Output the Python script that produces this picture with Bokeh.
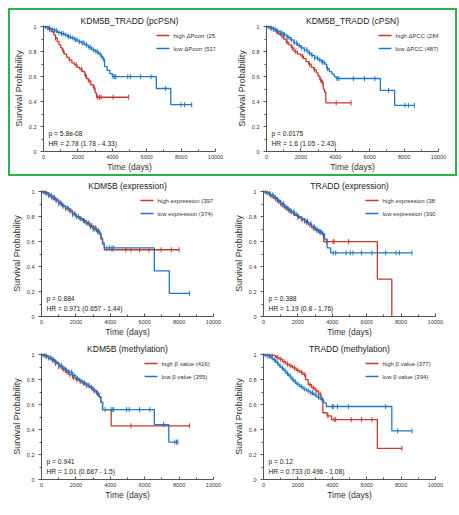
import numpy as np
from bokeh.plotting import figure
from bokeh.layouts import row, column
from bokeh.models import (Label, Range1d, FixedTicker, BoxAnnotation,
                          CustomJSTickFormatter)
from bokeh.embed import file_html
from bokeh.resources import INLINE

RED = "#c53a2e"
BLUE = "#2278c3"
GREEN = "#2bb24c"
FONT = "Liberation Sans"

titles = ["KDM5B_TRADD (pcPSN)", "KDM5B_TRADD (cPSN)", "KDM5B (expression)",
          "TRADD (expression)", "KDM5B (methylation)", "TRADD (methylation)"]
high_labels = ["high ΔPcorr (254)", "high ΔPCC (284)", "high expression (397)",
               "high expression (381)", "high β value (416)", "high β value (377)"]
low_labels = ["low ΔPcorr (517)", "low ΔPCC (487)", "low expression (374)",
              "low expression (390)", "low β value (355)", "low β value (394)"]
p_values = ["p = 5.8e-08", "p = 0.0175", "p = 0.884", "p = 0.388", "p = 0.941", "p = 0.12"]
hr_values = ["HR = 2.78 (1.78 - 4.33)", "HR = 1.6 (1.05 - 2.43)", "HR = 0.971 (0.657 - 1.44)",
             "HR = 1.19 (0.8 - 1.76)", "HR = 1.01 (0.687 - 1.5)", "HR = 0.733 (0.496 - 1.08)"]
x_ticks = [0, 2000, 4000, 6000, 8000, 10000]
x_minor = [1000, 3000, 5000, 7000, 9000]
y_ticks = [0, 0.2, 0.4, 0.6, 0.8, 1]
y_minor = [0.1, 0.3, 0.5, 0.7, 0.9]

# ---- Kaplan-Meier curves (step times, survival after step, last follow-up, censor times)
p1_high_t = [0, 300, 450, 600, 700, 800, 900, 1000, 1100, 1200, 1350, 1500, 1650, 1800, 1950, 2100, 2250, 2400, 2500, 2600, 2750, 2900, 3000, 3080]
p1_high_s = [1, 0.98, 0.96, 0.935, 0.91, 0.88, 0.855, 0.83, 0.805, 0.78, 0.755, 0.735, 0.71, 0.695, 0.675, 0.66, 0.64, 0.61, 0.585, 0.565, 0.535, 0.51, 0.47, 0.435]
p1_high_end = 4950
p1_high_cens = [350, 700, 1150, 1500, 1900, 2200, 2450, 2650, 2950, 3150, 3250, 3350, 4050, 4950]

p1_low_t = [0, 200, 400, 600, 800, 1000, 1200, 1400, 1600, 1800, 2000, 2200, 2400, 2600, 2800, 3000, 3200, 3350, 3450, 3550, 3700, 3850, 4000, 6560, 7400]
p1_low_s = [1, 0.99, 0.98, 0.97, 0.955, 0.945, 0.935, 0.92, 0.91, 0.895, 0.88, 0.87, 0.855, 0.835, 0.815, 0.80, 0.78, 0.76, 0.74, 0.68, 0.65, 0.625, 0.60, 0.505, 0.375]
p1_low_end = 8620
p1_low_cens = [100, 250, 350, 500, 650, 750, 900, 1050, 1150, 1300, 1450, 1550, 1700, 1850, 1950, 2100, 2250, 2350, 2500, 2650, 2750, 2900, 3050, 3150, 3300, 3400, 3500, 4050, 4150, 4200, 4900, 5050, 5650, 6250, 7100, 8000, 8200, 8620]

p2_high_t = [0, 200, 400, 550, 700, 850, 1000, 1150, 1300, 1450, 1600, 1800, 2000, 2150, 2300, 2450, 2600, 2750, 2900, 3000, 3100, 3200, 3300, 3380, 3450]
p2_high_s = [1, 0.99, 0.975, 0.96, 0.94, 0.925, 0.90, 0.875, 0.855, 0.83, 0.80, 0.78, 0.765, 0.745, 0.72, 0.70, 0.675, 0.655, 0.63, 0.605, 0.575, 0.555, 0.50, 0.475, 0.39]
p2_high_end = 4920
p2_high_cens = [300, 600, 900, 1200, 1500, 1700, 2100, 2500, 2800, 3150, 3250, 4050, 4920]

p2_low_t = [0, 200, 400, 600, 800, 1000, 1200, 1400, 1600, 1800, 2000, 2200, 2400, 2600, 2800, 3000, 3200, 3400, 3500, 3650, 3800, 3950, 4050, 6620, 7450]
p2_low_s = [1, 0.99, 0.98, 0.965, 0.95, 0.935, 0.915, 0.895, 0.87, 0.85, 0.83, 0.815, 0.79, 0.77, 0.75, 0.735, 0.715, 0.70, 0.665, 0.64, 0.62, 0.60, 0.585, 0.49, 0.37]
p2_low_end = 8600
p2_low_cens = [100, 250, 400, 500, 650, 800, 900, 1050, 1200, 1300, 1450, 1600, 1750, 1900, 2050, 2200, 2350, 2500, 2650, 2800, 2950, 3100, 3250, 3350, 3550, 4100, 4200, 5050, 5700, 6300, 7100, 8050, 8250, 8600]

p3_high_t = [0, 200, 400, 600, 800, 1000, 1200, 1400, 1600, 1800, 2000, 2200, 2400, 2600, 2800, 3000, 3200, 3350, 3450, 3550, 3650]
p3_high_s = [1, 0.99, 0.975, 0.955, 0.935, 0.91, 0.885, 0.865, 0.85, 0.825, 0.80, 0.785, 0.77, 0.75, 0.73, 0.71, 0.69, 0.66, 0.62, 0.58, 0.535]
p3_high_end = 8000
p3_high_cens = [150, 300, 450, 600, 750, 900, 1100, 1250, 1400, 1550, 1700, 1900, 2050, 2250, 2450, 2600, 2750, 2900, 3050, 3150, 3300, 4100, 4900, 5200, 5700, 6250, 6950, 7550, 8000]

p3_low_t = [0, 200, 400, 600, 800, 1000, 1200, 1400, 1600, 1800, 2000, 2200, 2400, 2600, 2800, 3000, 3200, 3350, 3450, 3550, 3650, 6560, 7430]
p3_low_s = [1, 0.99, 0.97, 0.95, 0.93, 0.905, 0.885, 0.87, 0.845, 0.82, 0.80, 0.785, 0.765, 0.745, 0.72, 0.70, 0.68, 0.67, 0.63, 0.59, 0.55, 0.365, 0.185]
p3_low_end = 8600
p3_low_cens = [100, 250, 400, 550, 700, 850, 1000, 1150, 1300, 1500, 1650, 1800, 1950, 2150, 2300, 2500, 2700, 2850, 3000, 3100, 3250, 3400, 3800, 3950, 4100, 4200, 8600]

p4_high_t = [0, 200, 400, 600, 800, 1000, 1200, 1400, 1600, 1800, 2000, 2200, 2400, 2600, 2800, 3000, 3200, 3400, 3500, 6620, 7460]
p4_high_s = [1, 0.985, 0.965, 0.945, 0.92, 0.895, 0.87, 0.85, 0.83, 0.81, 0.795, 0.775, 0.755, 0.735, 0.71, 0.69, 0.675, 0.66, 0.60, 0.30, 0.0]
p4_high_end = 7460
p4_high_cens = [150, 350, 500, 700, 900, 1100, 1300, 1500, 1750, 2000, 2250, 2500, 2700, 2900, 3100, 3300, 3650, 4050, 4100, 4950]

p4_low_t = [0, 200, 400, 600, 800, 1000, 1200, 1400, 1600, 1800, 2000, 2200, 2400, 2600, 2800, 3000, 3200, 3400, 3550, 3700, 3900]
p4_low_s = [1, 0.99, 0.975, 0.955, 0.93, 0.905, 0.88, 0.86, 0.84, 0.82, 0.80, 0.785, 0.765, 0.745, 0.72, 0.70, 0.68, 0.665, 0.62, 0.55, 0.51]
p4_low_end = 8630
p4_low_cens = [100, 250, 400, 550, 700, 850, 1000, 1150, 1300, 1450, 1600, 1750, 1900, 2050, 2200, 2400, 2550, 2750, 2950, 3100, 3250, 3350, 3450, 4050, 4200, 4800, 5050, 5200, 5700, 6300, 7100, 7700, 7900, 8630]

p5_high_t = [0, 200, 400, 600, 800, 1000, 1200, 1400, 1600, 1800, 2000, 2200, 2400, 2600, 2800, 3000, 3200, 3350, 3450, 3550, 4050]
p5_high_s = [1, 0.99, 0.975, 0.955, 0.93, 0.905, 0.88, 0.86, 0.84, 0.815, 0.80, 0.785, 0.77, 0.755, 0.74, 0.715, 0.69, 0.665, 0.62, 0.56, 0.43]
p5_high_end = 8600
p5_high_cens = [150, 300, 500, 650, 800, 1000, 1150, 1300, 1500, 1650, 1850, 2050, 2250, 2450, 2600, 2750, 2900, 3050, 3250, 5200, 8600]

p5_low_t = [0, 200, 400, 600, 800, 1000, 1200, 1400, 1600, 1800, 2000, 2200, 2400, 2600, 2800, 3000, 3200, 3350, 3450, 3550, 6560, 7400]
p5_low_s = [1, 0.99, 0.975, 0.96, 0.94, 0.915, 0.895, 0.875, 0.86, 0.835, 0.81, 0.79, 0.775, 0.755, 0.735, 0.71, 0.685, 0.66, 0.62, 0.56, 0.44, 0.30]
p5_low_end = 7930
p5_low_cens = [100, 250, 400, 550, 700, 850, 1000, 1150, 1300, 1450, 1600, 1750, 1900, 2100, 2300, 2500, 2700, 2900, 3100, 3300, 3700, 4050, 4150, 4200, 4950, 5100, 5700, 6300, 7100, 7750, 7850, 7930]

p6_high_t = [0, 400, 700, 900, 1100, 1300, 1500, 1700, 1900, 2100, 2300, 2450, 2600, 2800, 3000, 3200, 3350, 3450, 3700, 3950, 6620]
p6_high_s = [1, 0.995, 0.98, 0.965, 0.945, 0.925, 0.91, 0.895, 0.875, 0.86, 0.84, 0.80, 0.76, 0.735, 0.71, 0.685, 0.655, 0.535, 0.51, 0.48, 0.25]
p6_high_end = 8050
p6_high_cens = [500, 800, 1000, 1200, 1400, 1600, 1800, 2000, 2200, 2400, 2700, 2900, 3100, 3300, 3750, 4100, 4200, 5100, 5700, 6300, 8050]

p6_low_t = [0, 200, 400, 550, 700, 850, 1000, 1150, 1300, 1450, 1600, 1750, 1900, 2100, 2300, 2500, 2700, 2900, 3100, 3300, 3500, 3650, 7460]
p6_low_s = [1, 0.99, 0.975, 0.96, 0.94, 0.915, 0.895, 0.875, 0.85, 0.83, 0.805, 0.785, 0.765, 0.745, 0.725, 0.71, 0.695, 0.68, 0.66, 0.64, 0.615, 0.585, 0.39]
p6_low_end = 8630
p6_low_cens = [100, 250, 350, 500, 650, 800, 950, 1100, 1250, 1400, 1550, 1700, 1850, 2000, 2200, 2400, 2600, 2750, 2850, 3000, 3200, 3400, 4000, 4050, 4300, 4950, 7100, 7800, 8630]

curves = [
    ((p1_high_t, p1_high_s, p1_high_end, p1_high_cens), (p1_low_t, p1_low_s, p1_low_end, p1_low_cens)),
    ((p2_high_t, p2_high_s, p2_high_end, p2_high_cens), (p2_low_t, p2_low_s, p2_low_end, p2_low_cens)),
    ((p3_high_t, p3_high_s, p3_high_end, p3_high_cens), (p3_low_t, p3_low_s, p3_low_end, p3_low_cens)),
    ((p4_high_t, p4_high_s, p4_high_end, p4_high_cens), (p4_low_t, p4_low_s, p4_low_end, p4_low_cens)),
    ((p5_high_t, p5_high_s, p5_high_end, p5_high_cens), (p5_low_t, p5_low_s, p5_low_end, p5_low_cens)),
    ((p6_high_t, p6_high_s, p6_high_end, p6_high_cens), (p6_low_t, p6_low_s, p6_low_end, p6_low_cens)),
]

FRAME_W = 172
FRAME_H = 126
X_END = 10000
Y_END = 1.01


def draw_km(p, data, color):
    t, s, end, cens = data
    xs = list(t) + [end]
    ys = list(s) + [s[-1]]
    p.step(xs, ys, mode="after", line_color=color, line_width=1.3)
    idx = np.searchsorted(np.array(t), np.array(cens), side="right") - 1
    cy = np.array(s)[idx]
    p.scatter(cens, cy, marker="dash", angle=np.pi / 2, size=5,
              line_color=color, line_width=1)


def px_to_x(px):
    return px / FRAME_W * X_END


def px_to_y(py_from_top):
    return Y_END - py_from_top / FRAME_H * Y_END


def add_legend(p, lx, labels, colors):
    # legend key: short coloured bar + label, offsets in px from frame top-left
    for k, (lab, col) in enumerate(zip(labels, colors)):
        yc = 10 + 13 * k
        p.add_layout(BoxAnnotation(left=px_to_x(lx), right=px_to_x(lx + 13),
                                   bottom=px_to_y(yc + 0.8), top=px_to_y(yc - 0.8),
                                   fill_color=col, fill_alpha=1, line_alpha=0))
        p.add_layout(Label(x=px_to_x(lx + 17), y=px_to_y(yc), text=lab,
                           text_font=FONT, text_font_size="6px",
                           text_baseline="middle", text_color="#333333"))


def make_panel(i, left, right, top, bottom, lx):
    p = figure(frame_width=FRAME_W, frame_height=FRAME_H,
               output_backend="svg", toolbar_location=None,
               x_range=Range1d(0, X_END), y_range=Range1d(0, Y_END),
               min_border_left=left, min_border_right=right,
               min_border_top=top, min_border_bottom=bottom,
               title=titles[i])
    p.title.text_font = FONT
    p.title.text_font_size = "8.5px"
    p.title.text_font_style = "normal"
    p.title.text_color = "#222222"
    p.title.align = "center"
    p.title.standoff = 0
    p.outline_line_color = None
    p.grid.visible = False

    p.xaxis.ticker = FixedTicker(ticks=x_ticks, minor_ticks=x_minor)
    p.yaxis.ticker = FixedTicker(ticks=y_ticks, minor_ticks=y_minor)
    p.yaxis.formatter = CustomJSTickFormatter(code="return String(Number(tick.toFixed(1)));")
    p.xaxis.axis_label = "Time (days)"
    p.yaxis.axis_label = "Survival Probability"
    for ax in (p.xaxis[0], p.yaxis[0]):
        ax.axis_label_text_font = FONT
        ax.axis_label_text_font_style = "normal"
        ax.axis_label_text_color = "#333333"
        ax.major_label_text_font = FONT
        ax.major_label_text_font_size = "5.5px"
        ax.major_label_text_color = "#333333"
        ax.axis_line_color = "#555555"
        ax.major_tick_line_color = "#555555"
        ax.minor_tick_line_color = "#555555"
    p.xaxis.axis_label_text_font_size = "8.5px"
    p.yaxis.axis_label_text_font_size = "9px"
    p.xaxis.axis_label_standoff = 0
    p.xaxis.major_label_standoff = 3
    p.yaxis.axis_label_standoff = 2
    p.yaxis.major_label_standoff = 4
    p.xaxis.major_tick_in = 3
    p.xaxis.major_tick_out = 0
    p.xaxis.minor_tick_in = 2
    p.xaxis.minor_tick_out = 0
    p.yaxis.major_tick_in = 0
    p.yaxis.major_tick_out = 3
    p.yaxis.minor_tick_in = 0
    p.yaxis.minor_tick_out = 2

    high, low = curves[i]
    draw_km(p, high, RED)
    draw_km(p, low, BLUE)

    add_legend(p, lx, [high_labels[i], low_labels[i]], [RED, BLUE])

    p.add_layout(Label(x=290, y=0.142, text=p_values[i], text_font=FONT,
                       text_font_size="6.7px", text_baseline="middle", text_color="#222222"))
    p.add_layout(Label(x=290, y=0.063, text=hr_values[i], text_font=FONT,
                       text_font_size="6.7px", text_baseline="middle", text_color="#222222"))
    return p


p1 = make_panel(0, 29, 18, 15, 22, 113)
p2 = make_panel(1, 31, 17, 15, 22, 112)
p3 = make_panel(2, 31, 17, 14, 23, 99)
p4 = make_panel(3, 33, 15, 14, 23, 102)
p5 = make_panel(4, 31, 17, 14, 23, 103)
p6 = make_panel(5, 33, 15, 14, 23, 102)

top = row(p1, p2, styles={"border": f"2px solid {GREEN}"})
page = column(top, row(p3, p4), row(p5, p6),
              styles={"margin-left": "8px", "margin-top": "8px"})

open("out.html", "w").write(file_html(page, INLINE))
